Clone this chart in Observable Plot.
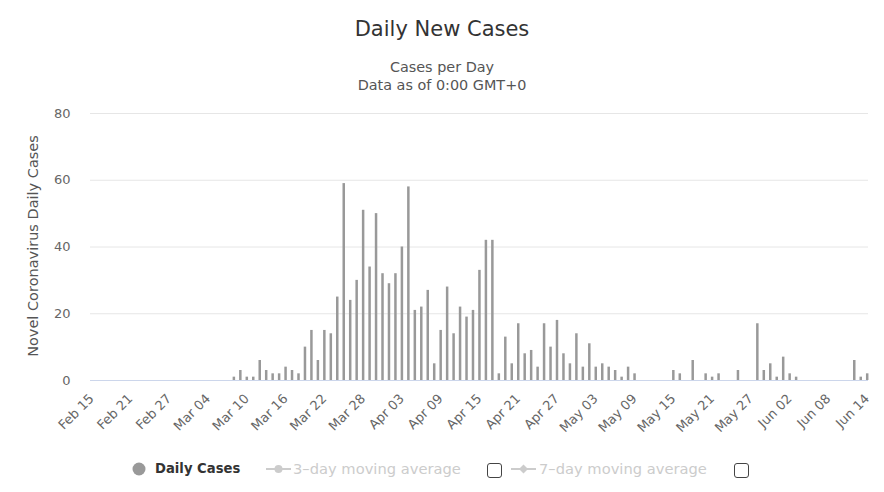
<!DOCTYPE html>
<html><head><meta charset="utf-8">
<script src="https://cdn.jsdelivr.net/npm/d3@7"></script>
<script src="https://cdn.jsdelivr.net/npm/@observablehq/plot@0.6"></script>
<style>
body{margin:0;background:#fff;}
#wrap{position:relative;width:884px;height:492px;font-family:"DejaVu Sans",sans-serif;overflow:hidden;}
#chart{position:absolute;left:0;top:0;}
.t{position:absolute;white-space:nowrap;}
#title{left:0;width:884px;top:17px;text-align:center;font-size:21px;color:#333;}
#sub1{left:0;width:884px;top:59px;text-align:center;font-size:14.4px;color:#555;}
#sub2{left:0;width:884px;top:77px;text-align:center;font-size:14.4px;color:#555;}
#ytitle{left:33px;top:246px;transform:translate(-50%,-50%) rotate(-90deg);font-size:14.5px;color:#555;}
.leg{position:absolute;top:460px;font-size:14.7px;white-space:nowrap;}
.box{position:absolute;width:13px;height:13px;border:1px solid #444;border-radius:3px;top:463px;}
</style></head><body>
<div id="wrap">
<div id="chart"></div>
<div class="t" id="title">Daily New Cases</div>
<div class="t" id="sub1">Cases per Day</div>
<div class="t" id="sub2">Data as of 0:00 GMT+0</div>
<div class="t" id="ytitle">Novel Coronavirus Daily Cases</div>
<svg style="position:absolute;left:130px;top:460px" width="18" height="18"><circle cx="9" cy="9" r="6.5" fill="#999"/></svg>
<div class="leg" style="left:155px;font-weight:bold;color:#333;font-size:13.2px;top:461px">Daily Cases</div>
<svg style="position:absolute;left:266px;top:460px" width="26" height="18"><line x1="0" y1="9" x2="25" y2="9" stroke="#ccc" stroke-width="2"/><circle cx="12.5" cy="9" r="4" fill="#ccc"/></svg>
<div class="leg" style="left:293px;color:#ccc">3–day moving average</div>
<div class="box" style="left:487px"></div>
<svg style="position:absolute;left:511px;top:460px" width="26" height="18"><line x1="0" y1="9" x2="25" y2="9" stroke="#ccc" stroke-width="2"/><path d="M12.5,4.5 L17,9 L12.5,13.5 L8,9 Z" fill="#ccc"/></svg>
<div class="leg" style="left:539px;color:#ccc">7–day moving average</div>
<div class="box" style="left:734px"></div>
</div>
<script>
const startDate = "2020-02-15";
const dailyCases = [
  // Feb 15 – Mar 07
  0,0,0,0,0,0,0,0,0,0,0,0,0,0,0,0,0,0,0,0,0,0,
  // Mar 08 – Mar 31
  1,3,1,1,6,3,2,2,4,3,2,10,15,6,15,14,25,59,24,30,51,34,50,32,
  // Apr 01 – Apr 30
  29,32,40,58,21,22,27,5,15,28,14,22,19,21,33,42,42,2,13,5,17,8,9,4,17,10,18,8,5,14,
  // May 01 – May 31
  4,11,4,5,4,3,1,4,2,0,0,0,0,0,3,2,0,6,0,2,1,2,0,0,3,0,0,17,3,5,1,
  // Jun 01 – Jun 14
  7,2,1,0,0,0,0,0,0,0,0,6,1,2
];
const yTicks = [0, 20, 40, 60, 80];
const xTickStepDays = 6;

const t0 = new Date(startDate + "T00:00:00Z");
const data = dailyCases.map((v, i) => ({date: d3.utcDay.offset(t0, i), value: v}));
const tEnd = data[data.length - 1].date;
const xTicks = d3.utcDay.range(t0, d3.utcDay.offset(tEnd, 1), xTickStepDays);

const chart = Plot.plot({
  width: 884,
  height: 492,
  marginLeft: 90,
  marginRight: 16,
  marginTop: 113,
  marginBottom: 112,
  style: {fontFamily: "'DejaVu Sans', sans-serif", background: "#fff"},
  x: {type: "utc", domain: [t0, tEnd], range: [91.2, 866.7]},
  y: {domain: [0, 80]},
  marks: [
    Plot.gridY(yTicks, {stroke: "#e6e6e6", strokeOpacity: 1}),
    Plot.ruleY([0], {stroke: "#ccd6eb"}),
    Plot.ruleX(data.filter(d => d.value > 0), {x: "date", y1: 0, y2: "value", stroke: "#999", strokeWidth: 2.5}),
    Plot.axisY(yTicks, {tickSize: 0, tickPadding: 20, fontSize: 13, color: "#666", label: null}),
    Plot.axisX(xTicks, {tickSize: 0, tickPadding: 16, tickRotate: -45, fontSize: 13, color: "#666", tickFormat: d3.utcFormat("%b %d"), label: null})
  ]
});
document.getElementById("chart").appendChild(chart);
</script>
</body></html>
